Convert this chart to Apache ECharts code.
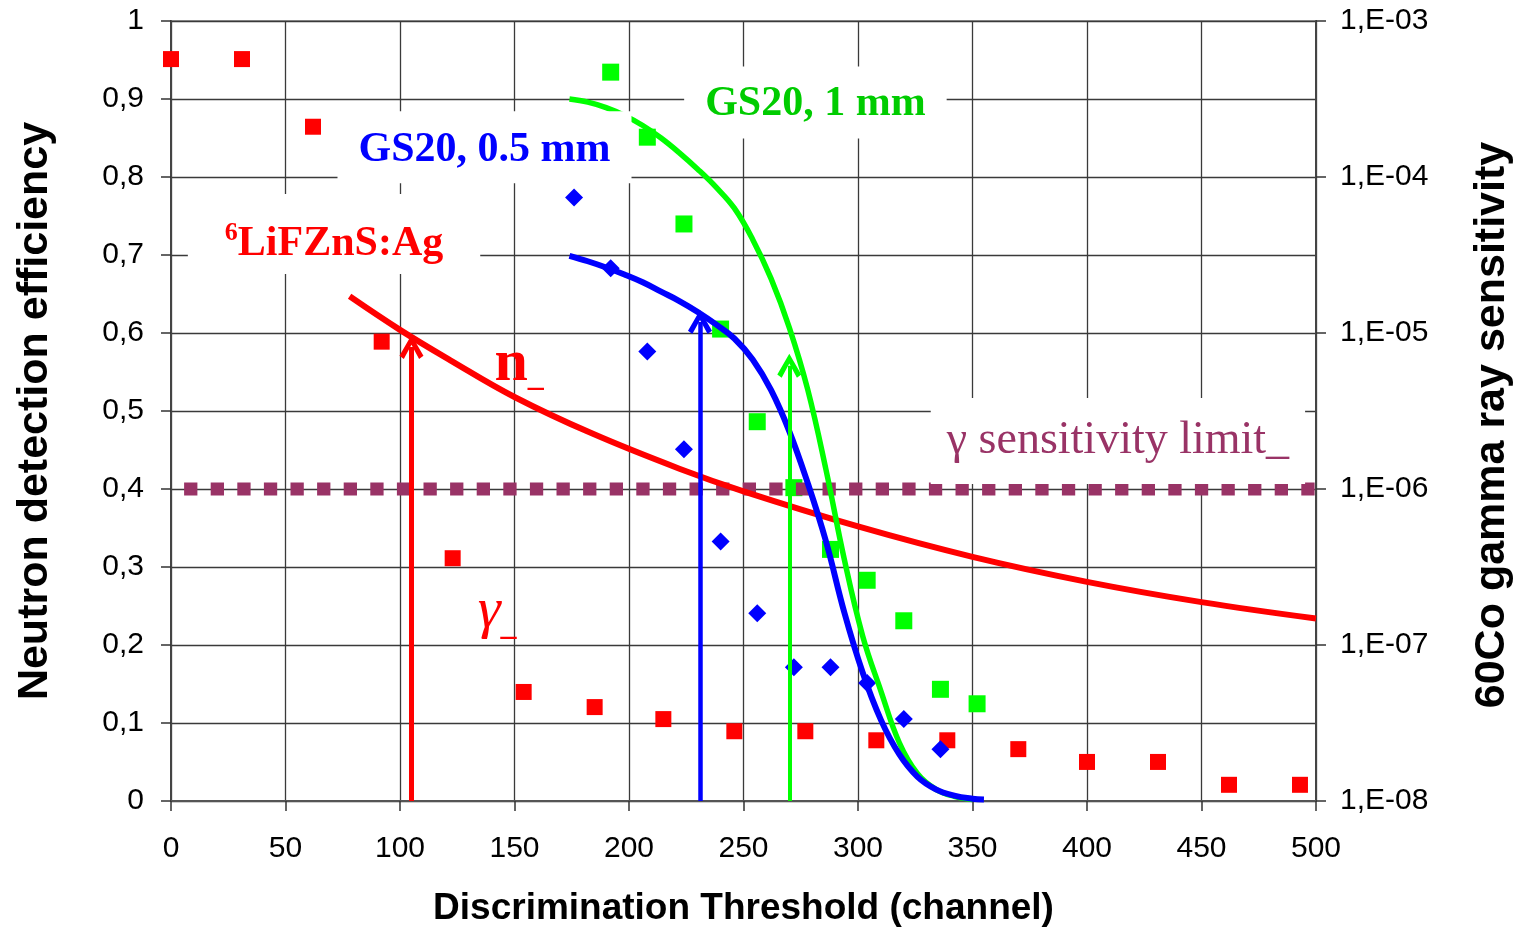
<!DOCTYPE html>
<html>
<head>
<meta charset="utf-8">
<title>Neutron detection efficiency / gamma sensitivity</title>
<script src="https://cdn.jsdelivr.net/npm/echarts@6/dist/echarts.min.js"></script>
<style>
  html, body { margin: 0; padding: 0; background: #fff; }
  #chart { width: 1520px; height: 930px; }
</style>
</head>
<body>
<div id="chart"></div>
<script>
// neutron detection efficiency curves (left axis)
const lifEffX = [78, 100, 122, 150, 184, 222, 250, 300, 350, 400, 450, 500]
const lifEffY = [0.647, 0.604, 0.565, 0.518, 0.471, 0.426, 0.397, 0.352, 0.313, 0.281, 0.255, 0.234]
const gs05EffX = [174, 182, 190, 198, 206, 214, 222, 230, 238, 246, 254, 262, 270, 278, 286, 294, 302, 310, 318, 326, 334, 342, 350, 355]
const gs05EffY = [0.699, 0.692, 0.684, 0.675, 0.665, 0.653, 0.641, 0.627, 0.611, 0.593, 0.566, 0.527, 0.474, 0.408, 0.333, 0.242, 0.165, 0.104, 0.06, 0.031, 0.015, 0.007, 0.003, 0.002]
const gs1EffX = [174, 182, 190, 198, 206, 214, 222, 230, 238, 246, 254, 262, 270, 278, 286, 294, 302, 310, 318, 326, 334, 342, 350]
const gs1EffY = [0.9, 0.896, 0.889, 0.879, 0.866, 0.85, 0.831, 0.81, 0.787, 0.76, 0.72, 0.67, 0.607, 0.528, 0.425, 0.31, 0.212, 0.141, 0.075, 0.035, 0.015, 0.006, 0.002]

// 60Co gamma ray sensitivity (right, log axis)
const lifGammaX = [0, 31, 62, 92, 123, 154, 185, 215, 246, 277, 308, 339, 370, 400, 431, 462, 493]
const lifGammaY = [5.7e-4, 5.7e-4, 2.1e-4, 8.8e-6, 3.6e-7, 5.0e-8, 4.0e-8, 3.35e-8, 2.8e-8, 2.8e-8, 2.45e-8, 2.45e-8, 2.15e-8, 1.78e-8, 1.78e-8, 1.27e-8, 1.27e-8]
const gs05GammaX = [176, 192, 208, 224, 240, 256, 272, 288, 304, 320, 336]
const gs05GammaY = [7.4e-5, 2.6e-5, 7.6e-6, 1.8e-6, 4.6e-7, 1.6e-7, 7.2e-8, 7.2e-8, 5.7e-8, 3.35e-8, 2.15e-8]
const gs1GammaX = [192, 208, 224, 240, 256, 272, 288, 304, 320, 336, 352]
const gs1GammaY = [4.7e-4, 1.8e-4, 5.0e-5, 1.06e-5, 2.7e-6, 1.02e-6, 4.1e-7, 2.6e-7, 1.43e-7, 5.2e-8, 4.2e-8]

// gamma sensitivity limit
const limitX = [0, 500]
const limitY = 1e-6

// thresholds picked for each detector (arrow x, arrow top on left axis)
const arrowX = [105, 231, 270]
const arrowTop = [0.582, 0.614, 0.558]

// tick labels of the right axis
const rightTickLabels = ['1,E-08', '1,E-07', '1,E-06', '1,E-05', '1,E-04', '1,E-03']

const zip = (xs, ys) => xs.map((x, i) => [x, Array.isArray(ys) ? ys[i] : ys])

const RED = '#ff0000'
const BLUE = '#0000ff'
const GREEN = '#00ff00'
const PURPLE = '#993366'
const sansFont = 'Liberation Sans'
const serifFont = 'Liberation Serif'

// open arrow head, tip pointing up
const chevron = 'path://M0,19 L11,0 L22,19 L18,22 L11,9 L4,22 Z'

function arrow(i, color, width) {
  return {
    silent: true,
    symbol: ['none', chevron],
    symbolSize: [24, 24],
    label: { show: false },
    lineStyle: { color: color, width: width, type: 'solid', opacity: 1 },
    emphasis: { disabled: true },
    data: [[{ coord: [arrowX[i], 0] }, { coord: [arrowX[i], arrowTop[i]] }]]
  }
}

const chart = echarts.init(document.getElementById('chart'))

const option = {
  animation: false,
  backgroundColor: '#fff',
  grid: {
    left: 171, right: 204, top: 21, bottom: 129,
    outerBoundsMode: 'none',
    show: true, borderColor: '#9a9a9a', borderWidth: 2
  },
  xAxis: {
    type: 'value', min: 0, max: 500, interval: 50,
    name: 'Discrimination Threshold (channel)',
    nameLocation: 'middle', nameGap: 89,
    nameTextStyle: { fontFamily: sansFont, fontWeight: 'bold', fontSize: 37, color: '#000' },
    axisLine: { show: true, lineStyle: { color: '#555', width: 2 } },
    axisTick: { show: true, length: 10, lineStyle: { color: '#333', width: 1.5 } },
    axisLabel: { margin: 33, fontFamily: sansFont, fontSize: 30, color: '#000' },
    splitLine: { show: true, lineStyle: { color: '#3a3a3a', width: 1.3 } }
  },
  yAxis: [
    {
      type: 'value', min: 0, max: 1, interval: 0.1,
      name: 'Neutron detection efficiency',
      nameLocation: 'middle', nameRotate: 90, nameGap: 114,
      nameTextStyle: { fontFamily: sansFont, fontWeight: 'bold', fontSize: 43, color: '#000' },
      axisLine: { show: true, lineStyle: { color: '#444', width: 2 } },
      axisTick: { show: true, length: 10, lineStyle: { color: '#333', width: 1.5 } },
      axisLabel: {
        margin: 27, fontFamily: sansFont, fontSize: 30, color: '#000',
        formatter: function(v) {
          if (Math.abs(v) < 1e-9) return '0'
          if (Math.abs(v - 1) < 1e-9) return '1'
          return v.toFixed(1).replace('.', ',')
        }
      },
      splitLine: { show: true, lineStyle: { color: '#3a3a3a', width: 1.3 } }
    },
    {
      type: 'log', logBase: 10, min: 1e-8, max: 1e-3, position: 'right',
      name: '60Co gamma ray sensitivity',
      nameLocation: 'middle', nameRotate: 90, nameGap: 155,
      nameTextStyle: { fontFamily: sansFont, fontWeight: 'bold', fontSize: 43, color: '#000', padding: [0, 28, 0, 0] },
      axisLine: { show: true, lineStyle: { color: '#444', width: 2 } },
      axisTick: { show: true, length: 10, lineStyle: { color: '#333', width: 1.5 } },
      axisLabel: {
        margin: 24, fontFamily: sansFont, fontSize: 30, color: '#000',
        formatter: function(v) {
          const idx = Math.round(Math.log10(v)) + 8
          return rightTickLabels[idx] || ''
        }
      },
      splitLine: { show: false }
    }
  ],
  series: [
    { // γ sensitivity limit
      name: 'limit', type: 'line', yAxisIndex: 1,
      data: zip(limitX, limitY),
      symbol: 'none', silent: true,
      lineStyle: { color: PURPLE, width: 13, type: [13.3, 13.3], dashOffset: 13.5, cap: 'butt' }
    },
    {
      name: '6LiFZnS:Ag n', type: 'line', yAxisIndex: 0,
      data: zip(lifEffX, lifEffY),
      smooth: 0.4, symbol: 'none',
      lineStyle: { color: RED, width: 6 },
      markLine: arrow(0, RED, 5)
    },
    {
      name: 'GS20 1 mm n', type: 'line', yAxisIndex: 0,
      data: zip(gs1EffX, gs1EffY),
      smooth: 0.4, symbol: 'none',
      lineStyle: { color: GREEN, width: 5.5 },
      markLine: arrow(2, GREEN, 4)
    },
    {
      name: 'GS20 0.5 mm n', type: 'line', yAxisIndex: 0,
      data: zip(gs05EffX, gs05EffY),
      smooth: 0.4, symbol: 'none',
      lineStyle: { color: BLUE, width: 6 },
      markLine: arrow(1, BLUE, 4.5)
    },
    {
      name: '6LiFZnS:Ag γ', type: 'scatter', yAxisIndex: 1,
      data: zip(lifGammaX, lifGammaY),
      symbol: 'rect', symbolSize: 16,
      itemStyle: { color: RED, opacity: 1 }
    },
    {
      name: 'GS20 0.5 mm γ', type: 'scatter', yAxisIndex: 1,
      data: zip(gs05GammaX, gs05GammaY),
      symbol: 'diamond', symbolSize: 18,
      itemStyle: { color: BLUE, opacity: 1 }
    },
    {
      name: 'GS20 1 mm γ', type: 'scatter', yAxisIndex: 1,
      data: zip(gs1GammaX, gs1GammaY),
      symbol: 'rect', symbolSize: 17,
      itemStyle: { color: GREEN, opacity: 1 }
    }
  ]
}

chart.setOption(option)

// text boxes inside the plot, anchored in data coordinates
function note(at, text, rich, padding, bg) {
  const p = chart.convertToPixel({ xAxisIndex: 0, yAxisIndex: 0 }, at)
  return {
    type: 'text', x: p[0], y: p[1], z: 100, silent: true,
    style: {
      text: text, rich: rich,
      align: 'center', verticalAlign: 'middle',
      backgroundColor: bg ? '#fff' : 'transparent',
      padding: padding
    }
  }
}

const boldSerif = (size, color) => ({ fontFamily: serifFont, fontWeight: 'bold', fontSize: size, fill: color })

chart.setOption({
  graphic: [
    note([71.2, 0.727], '{s|6}{m|LiFZnS:Ag}', {
      s: Object.assign(boldSerif(26, RED), { verticalAlign: 'top', lineHeight: 26 }),
      m: Object.assign(boldSerif(42, RED), { lineHeight: 48 })
    }, [26, 37, 6, 37], true),
    note([136.9, 0.838], '{m|GS20, 0.5 mm}', {
      m: Object.assign(boldSerif(42, BLUE), { lineHeight: 48 })
    }, [15, 21, 9, 21], true),
    note([281.4, 0.8955], '{m|GS20, 1 mm}', {
      m: Object.assign(boldSerif(42, '#00cc00'), { lineHeight: 48 })
    }, [14, 21, 10, 21], true),
    note([152, 0.56], '{n|n}{u|_}', {
      n: Object.assign(boldSerif(60, RED), { lineHeight: 60 }),
      u: Object.assign(boldSerif(32, RED), { lineHeight: 40, verticalAlign: 'bottom' })
    }, [0, 0, 0, 0], false),
    note([142.4, 0.242], '{g|γ}{u|_}', {
      g: { fontFamily: serifFont, fontStyle: 'italic', fontSize: 58, fill: RED, lineHeight: 60 },
      u: Object.assign(boldSerif(32, RED), { lineHeight: 36, verticalAlign: 'bottom' })
    }, [0, 0, 0, 0], false),
    note([413.5, 0.4615], '{m|γ sensitivity limit_}', {
      m: { fontFamily: serifFont, fontSize: 46, fill: PURPLE, lineHeight: 50 }
    }, [18, 16, 18, 16], true)
  ]
})
</script>
</body>
</html>
